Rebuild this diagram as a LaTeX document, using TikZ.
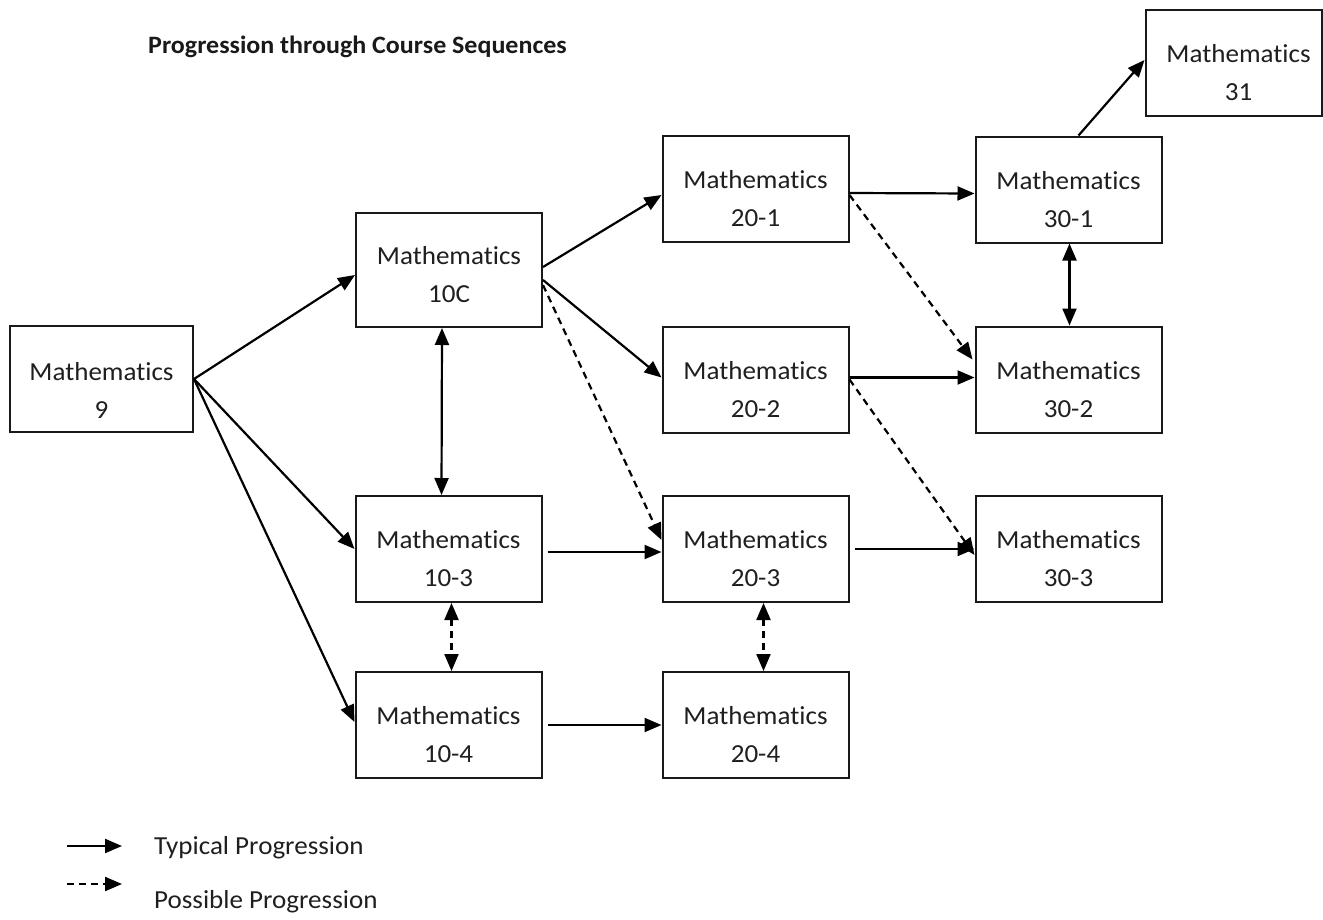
\documentclass[tikz,border=0pt]{standalone}
\usepackage{fontspec}
\setmainfont{Carlito}[FakeStretch=1.04, Ligatures=NoCommon]
\usetikzlibrary{arrows.meta,calc}
\tikzset{
  box/.style={draw=black!90, line width=2pt, minimum width=186pt, minimum height=106pt, inner sep=0pt, fill=white},
  lbl/.style={align=center, font=\fontsize{26}{38}\selectfont, text=black!88, inner sep=0pt},
  conn/.style={line width=2.2pt, -{Triangle[length=17pt,width=14pt]}},
  dconn/.style={conn, dash pattern=on 7pt off 5pt},
  both/.style={line width=2.2pt, {Triangle[length=17pt,width=14pt]}-{Triangle[length=17pt,width=14pt]}},
  dboth/.style={both, dash pattern=on 7pt off 5pt}
}
\begin{document}
\begin{tikzpicture}[x=1pt,y=-1pt]
\useasboundingbox (0,0) rectangle (1323,919);
% title
\node[anchor=west, font=\fontsize{25}{30}\selectfont\bfseries, text=black!90, inner sep=0pt] (title) at (148,47) {Progression through Course Sequences};
% boxes
\node[box, minimum width=183pt] (m9) at (101.5,379) {};
\node[box, minimum height=114pt] (m10c) at (449,270) {};
\node[box] (m201) at (755.5,189) {};
\node[box] (m202) at (755.5,379.5) {};
\node[box] (m301) at (1068.5,189.5) {};
\node[box] (m302) at (1068.5,379.5) {};
\node[box, minimum width=176pt] (m31) at (1233.5,63) {};
\node[box] (m103) at (448.5,549) {};
\node[box] (m104) at (448.5,725) {};
\node[box] (m203) at (755.5,549) {};
\node[box] (m204) at (755.5,725) {};
\node[box] (m303) at (1068.5,549) {};
% labels
\node[lbl] (t9) at ($(m9.center)+(0,11)$) {Mathematics\\9};
\node[lbl] (t10c) at ($(m10c.center)+(0,5)$) {Mathematics\\10C};
\node[lbl] (t201) at ($(m201.center)+(0,10)$) {Mathematics\\20-1};
\node[lbl] (t202) at ($(m202.center)+(0,10)$) {Mathematics\\20-2};
\node[lbl] (t301) at ($(m301.center)+(0,10)$) {Mathematics\\30-1};
\node[lbl] (t302) at ($(m302.center)+(0,10)$) {Mathematics\\30-2};
\node[lbl] (t31) at ($(m31.center)+(5,10)$) {Mathematics\\31};
\node[lbl] (t103) at ($(m103.center)+(0,10)$) {Mathematics\\10-3};
\node[lbl] (t104) at ($(m104.center)+(0,10)$) {Mathematics\\10-4};
\node[lbl] (t203) at ($(m203.center)+(0,10)$) {Mathematics\\20-3};
\node[lbl] (t204) at ($(m204.center)+(0,10)$) {Mathematics\\20-4};
\node[lbl] (t303) at ($(m303.center)+(0,10)$) {Mathematics\\30-3};
% connectors
\draw[conn] (m9.east) -- ($(m10c.west)+(0,5)$);
\draw[conn] (m9.east) -- (m103.west);
\draw[conn] (m9.east) -- ($(m104.west)+(0,-3)$);
\draw[conn] ($(m10c.east)+(0,-3)$) -- ($(m201.west)+(0,6)$);
\draw[conn] ($(m10c.east)+(0,10)$) -- ($(m202.west)+(0,-2)$);
\draw[dconn] ($(m10c.east)+(0,15)$) -- ($(m203.west)+(0,-9)$);
\draw[both] ($(m10c.south)+(-7,0)$) -- ($(m103.north)+(-7,0)$);
\draw[dboth] ($(m103.south)+(3,0)$) -- ($(m104.north)+(3,0)$);
\draw[dboth] ($(m203.south)+(8,0)$) -- ($(m204.north)+(8,0)$);
\draw[conn] ($(m103.east)+(5,3)$) -- ($(m203.west)+(0,3)$);
\draw[conn] ($(m104.east)+(5,0)$) -- (m204.west);
\draw[conn] ($(m201.east)+(0,4)$) -- ($(m301.west)+(0,4)$);
\draw[dconn] ($(m201.east)+(0,6)$) -- ($(m302.west)+(-2,-20)$);
\draw[conn] ($(m202.east)+(0,-2)$) -- ($(m302.west)+(0,-2)$);
\draw[dconn] (m202.east) -- ($(m303.west)+(0,6)$);
\draw[conn] ($(m203.east)+(5,0)$) -- (m303.west);
\draw[conn] ($(m301.north)+(10,0)$) -- ($(m31.west)+(0,-3)$);
\draw[both] ($(m301.south)+(1,0)$) -- ($(m302.north)+(1,0)$);
% legend
\coordinate (l1a) at (67,846);
\coordinate (l1b) at (122,846);
\coordinate (l2a) at (67,884);
\coordinate (l2b) at (122,884);
\draw[conn] (l1a) -- (l1b);
\draw[dconn] (l2a) -- (l2b);
\node[anchor=west, lbl] (lt1) at (154,848) {Typical Progression};
\node[anchor=west, lbl] (lt2) at (154,902) {Possible Progression};
\end{tikzpicture}
\end{document}
